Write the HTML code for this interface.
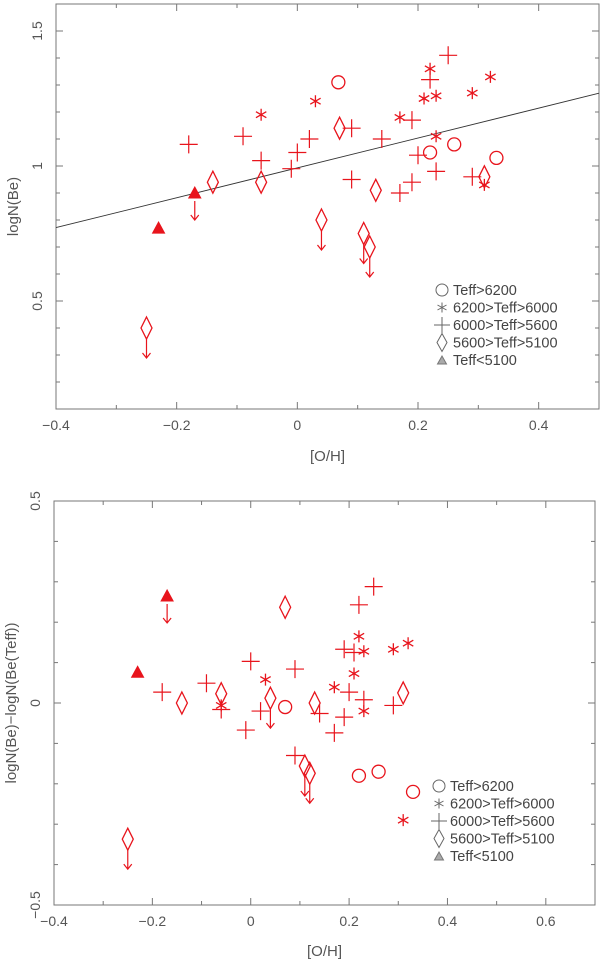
<!DOCTYPE html>
<html><head><meta charset="utf-8"><style>
html,body{margin:0;padding:0;background:#fff}
svg{display:block}
text{font-family:"Liberation Sans",sans-serif;fill:#555}
</style></head><body>
<svg id="chart" width="600" height="965" viewBox="0 0 600 965" xmlns="http://www.w3.org/2000/svg"></svg>
<script>
// ---------- TOP PANEL DATA ----------
const topCircleX=[0.068,0.22,0.26,0.33];
const topCircleY=[1.31,1.05,1.08,1.03];
const topAstX=[-0.06,0.03,0.17,0.21,0.22,0.23,0.23,0.29,0.32,0.31];
const topAstY=[1.19,1.24,1.18,1.25,1.36,1.26,1.11,1.27,1.33,0.93];
const topPlusX=[-0.18,-0.09,-0.06,-0.01,0,0.02,0.09,0.09,0.14,0.17,0.19,0.19,0.2,0.22,0.23,0.25,0.29];
const topPlusY=[1.08,1.11,1.02,0.99,1.05,1.10,1.14,0.95,1.10,0.90,1.17,0.94,1.04,1.32,0.98,1.41,0.96];
const topDiaX=[-0.14,-0.06,0.07,0.13,0.31];
const topDiaY=[0.94,0.94,1.14,0.91,0.96];
const topDiaLimX=[0.04,0.11,0.12,-0.25];
const topDiaLimY=[0.80,0.75,0.70,0.40];
const topTriX=[-0.23];
const topTriY=[0.77];
const topTriLimX=[-0.17];
const topTriLimY=[0.90];
const fitSlope=0.553, fitIntercept=0.993;
const topXTicks=[-0.4,-0.2,0,0.2,0.4];
const topXTickLabels=["\u22120.4","\u22120.2","0","0.2","0.4"];
const topYTicks=[0.5,1,1.5];
const topYTickLabels=["0.5","1","1.5"];
// ---------- BOTTOM PANEL DATA ----------
const botCircleX=[0.07,0.22,0.26,0.33];
const botCircleY=[-0.01,-0.18,-0.17,-0.22];
const botAstX=[-0.06,0.03,0.17,0.21,0.22,0.23,0.23,0.29,0.32,0.31];
const botAstY=[-0.006,0.058,0.039,0.073,0.165,0.128,-0.02,0.133,0.148,-0.29];
const botPlusX=[-0.18,-0.09,-0.06,-0.01,0,0.02,0.09,0.09,0.14,0.17,0.19,0.19,0.2,0.22,0.23,0.25,0.29,0.21];
const botPlusY=[0.027,0.049,-0.016,-0.067,0.103,-0.02,0.084,-0.13,-0.026,-0.074,0.133,-0.035,0.027,0.243,0.008,0.288,-0.006,0.125];
const botDiaX=[-0.14,-0.06,0.07,0.13,0.31];
const botDiaY=[0,0.023,0.237,0,0.025];
const botDiaLimX=[0.04,0.11,0.12,-0.25];
const botDiaLimY=[0.012,-0.156,-0.174,-0.337];
const botTriX=[-0.23];
const botTriY=[0.076];
const botTriLimX=[-0.17];
const botTriLimY=[0.265];
const botXTicks=[-0.4,-0.2,0,0.2,0.4,0.6];
const botXTickLabels=["\u22120.4","\u22120.2","0","0.2","0.4","0.6"];
const botYTicks=[-0.5,0,0.5];
const botYTickLabels=["\u22120.5","0","0.5"];
const legendLabels=["Teff>6200","6200>Teff>6000","6000>Teff>5600","5600>Teff>5100","Teff<5100"];

const NS="http://www.w3.org/2000/svg";
const svg=document.getElementById('chart');
const RED="#e8141c";
function mk(tag,attrs,parent){const e=document.createElementNS(NS,tag);for(const k in attrs)e.setAttribute(k,attrs[k]);(parent||svg).appendChild(e);return e;}

function panel(cfg){
  const g=mk('g',{});
  
  
  const sx=v=>cfg.x0+(v-cfg.xmin)/(cfg.xmax-cfg.xmin)*(cfg.x1-cfg.x0);
  const sy=v=>cfg.y1-(v-cfg.ymin)/(cfg.ymax-cfg.ymin)*(cfg.y1-cfg.y0);
  const fr=mk('rect',{x:cfg.x0,y:cfg.y0,width:cfg.x1-cfg.x0,height:cfg.y1-cfg.y0,fill:'none',stroke:'#777','stroke-width':1},g);
  
  
  // minor ticks every 0.1
  for(let i=0;;i++){const v=cfg.xmin+i*0.1;if(v>cfg.xmax+1e-6)break;const X=sx(v);const maj=Math.abs(Math.round(v*5)-v*5)<1e-6;const L=maj?7:4;
    mk('line',{x1:X,y1:cfg.y1,x2:X,y2:cfg.y1-L,stroke:'#777'},g);mk('line',{x1:X,y1:cfg.y0,x2:X,y2:cfg.y0+L,stroke:'#777'},g);}
  for(let i=0;;i++){const v=cfg.ymin+i*0.1;if(v>cfg.ymax+1e-6)break;const Y=sy(v);const maj=Math.abs(Math.round(v*2)-v*2)<1e-6;const L=maj?7:4;
    mk('line',{x1:cfg.x0,y1:Y,x2:cfg.x0+L,y2:Y,stroke:'#777'},g);mk('line',{x1:cfg.x1,y1:Y,x2:cfg.x1-L,y2:Y,stroke:'#777'},g);}
  cfg.xTicks.forEach((v,i)=>{const t=mk('text',{x:sx(v),y:cfg.y1+21,'text-anchor':'middle','font-size':14},g);t.textContent=cfg.xLabels[i];
    });
  cfg.yTicks.forEach((v,i)=>{const Y=sy(v);const t=mk('text',{x:cfg.x0-14,y:Y,'text-anchor':'middle','font-size':14,transform:`rotate(-90 ${cfg.x0-14} ${Y})`},g);t.textContent=cfg.yLabels[i];
    });
  const xt=mk('text',{x:(cfg.x0+cfg.x1)/2,y:cfg.xTitleY,'text-anchor':'middle','font-size':15},g);xt.textContent='[O/H]';
  
  const cy=(cfg.y0+cfg.y1)/2;
  const yt=mk('text',{x:cfg.yTitleX,y:cy,'text-anchor':'middle','font-size':15,transform:`rotate(-90 ${cfg.yTitleX} ${cy})`},g);yt.textContent=cfg.yTitle;
  
  if(cfg.fit){const ln=mk('line',{x1:sx(cfg.xmin),y1:sy(fitIntercept+fitSlope*cfg.xmin),x2:sx(cfg.xmax),y2:sy(fitIntercept+fitSlope*cfg.xmax),stroke:'#333','stroke-width':0.9},g);
    }
  const s=cfg.s;
  const arrow=(X,Y)=>{const a=mk('path',{d:`M${X},${Y}V${Y+19}M${X-4},${Y+14}L${X},${Y+19}L${X+4},${Y+14}`,fill:'none',stroke:RED,'stroke-width':1.2},g);
    };
  s.cx.forEach((v,i)=>{const c=mk('circle',{cx:sx(v),cy:sy(s.cy[i]),r:6.5,fill:'none',stroke:RED,'stroke-width':1.3},g);
    });
  s.ax.forEach((v,i)=>{const X=sx(v),Y=sy(s.ay[i]);const p=mk('path',{d:`M${X},${Y-6}V${Y+6}M${X-5.2},${Y-3}L${X+5.2},${Y+3}M${X-5.2},${Y+3}L${X+5.2},${Y-3}`,stroke:RED,'stroke-width':1.3,fill:'none'},g);
    });
  s.px.forEach((v,i)=>{const X=sx(v),Y=sy(s.py[i]);const p=mk('path',{d:`M${X},${Y-9}V${Y+9}M${X-9},${Y}H${X+9}`,stroke:RED,'stroke-width':1.2,fill:'none'},g);
    });
  const dia=(v,w,lim)=>{const X=sx(v),Y=sy(w);const p=mk('path',{d:`M${X},${Y-11}L${X+5.5},${Y}L${X},${Y+11}L${X-5.5},${Y}Z`,stroke:RED,'stroke-width':1.3,fill:'none'},g);
    if(lim)arrow(X,Y+11);};
  s.dx.forEach((v,i)=>dia(v,s.dy[i],false));
  s.dlx.forEach((v,i)=>dia(v,s.dly[i],true));
  const tri=(v,w,lim)=>{const X=sx(v),Y=sy(w);const p=mk('path',{d:`M${X},${Y-6}L${X+6},${Y+5}L${X-6},${Y+5}Z`,fill:RED,stroke:RED},g);
    if(lim)arrow(X,Y+8);};
  s.tx.forEach((v,i)=>tri(v,s.ty[i],false));
  s.tlx.forEach((v,i)=>tri(v,s.tly[i],true));
  // legend
  const lg=mk('g',{},g);
  legendLabels.forEach((lab,i)=>{const Y=cfg.legY+i*cfg.legStep;const X=cfg.legX;
    let m;
    if(i===0)m=mk('circle',{cx:X,cy:Y,r:6,fill:'none',stroke:'#666'},lg);
    else if(i===1)m=mk('path',{d:`M${X},${Y-5}V${Y+5}M${X-4.5},${Y-2.5}L${X+4.5},${Y+2.5}M${X-4.5},${Y+2.5}L${X+4.5},${Y-2.5}`,stroke:'#666',fill:'none'},lg);
    else if(i===2)m=mk('path',{d:`M${X},${Y-8}V${Y+8}M${X-8},${Y}H${X+8}`,stroke:'#666',fill:'none'},lg);
    else if(i===3)m=mk('path',{d:`M${X},${Y-9}L${X+5},${Y}L${X},${Y+9}L${X-5},${Y}Z`,stroke:'#666',fill:'none'},lg);
    else m=mk('path',{d:`M${X},${Y-4}L${X+4.5},${Y+4}L${X-4.5},${Y+4}Z`,stroke:'#777',fill:'#aaa'},lg);
    
    const t=mk('text',{x:X+11,y:Y+5,'font-size':14.5,style:'fill:#444'},lg);t.textContent=lab;
    });
}

panel({name:'top-panel',x0:56,x1:599,y0:4,y1:409,xmin:-0.4,xmax:0.5,ymin:0.1,ymax:1.6,
  xTicks:topXTicks,xLabels:topXTickLabels,yTicks:topYTicks,yLabels:topYTickLabels,
  xTitleY:461,yTitleX:18,yTitle:'logN(Be)',fit:true,legX:442,legY:290,legStep:17.5,
  s:{cx:topCircleX,cy:topCircleY,ax:topAstX,ay:topAstY,px:topPlusX,py:topPlusY,dx:topDiaX,dy:topDiaY,dlx:topDiaLimX,dly:topDiaLimY,tx:topTriX,ty:topTriY,tlx:topTriLimX,tly:topTriLimY}});
panel({name:'bottom-panel',x0:54,x1:595,y0:501,y1:905,xmin:-0.4,xmax:0.7,ymin:-0.5,ymax:0.5,
  xTicks:botXTicks,xLabels:botXTickLabels,yTicks:botYTicks,yLabels:botYTickLabels,
  xTitleY:956,yTitleX:16,yTitle:'logN(Be)\u2212logN(Be(Teff))',fit:false,legX:439,legY:786,legStep:17.5,
  s:{cx:botCircleX,cy:botCircleY,ax:botAstX,ay:botAstY,px:botPlusX,py:botPlusY,dx:botDiaX,dy:botDiaY,dlx:botDiaLimX,dly:botDiaLimY,tx:botTriX,ty:botTriY,tlx:botTriLimX,tly:botTriLimY}});
</script>
</body></html>
